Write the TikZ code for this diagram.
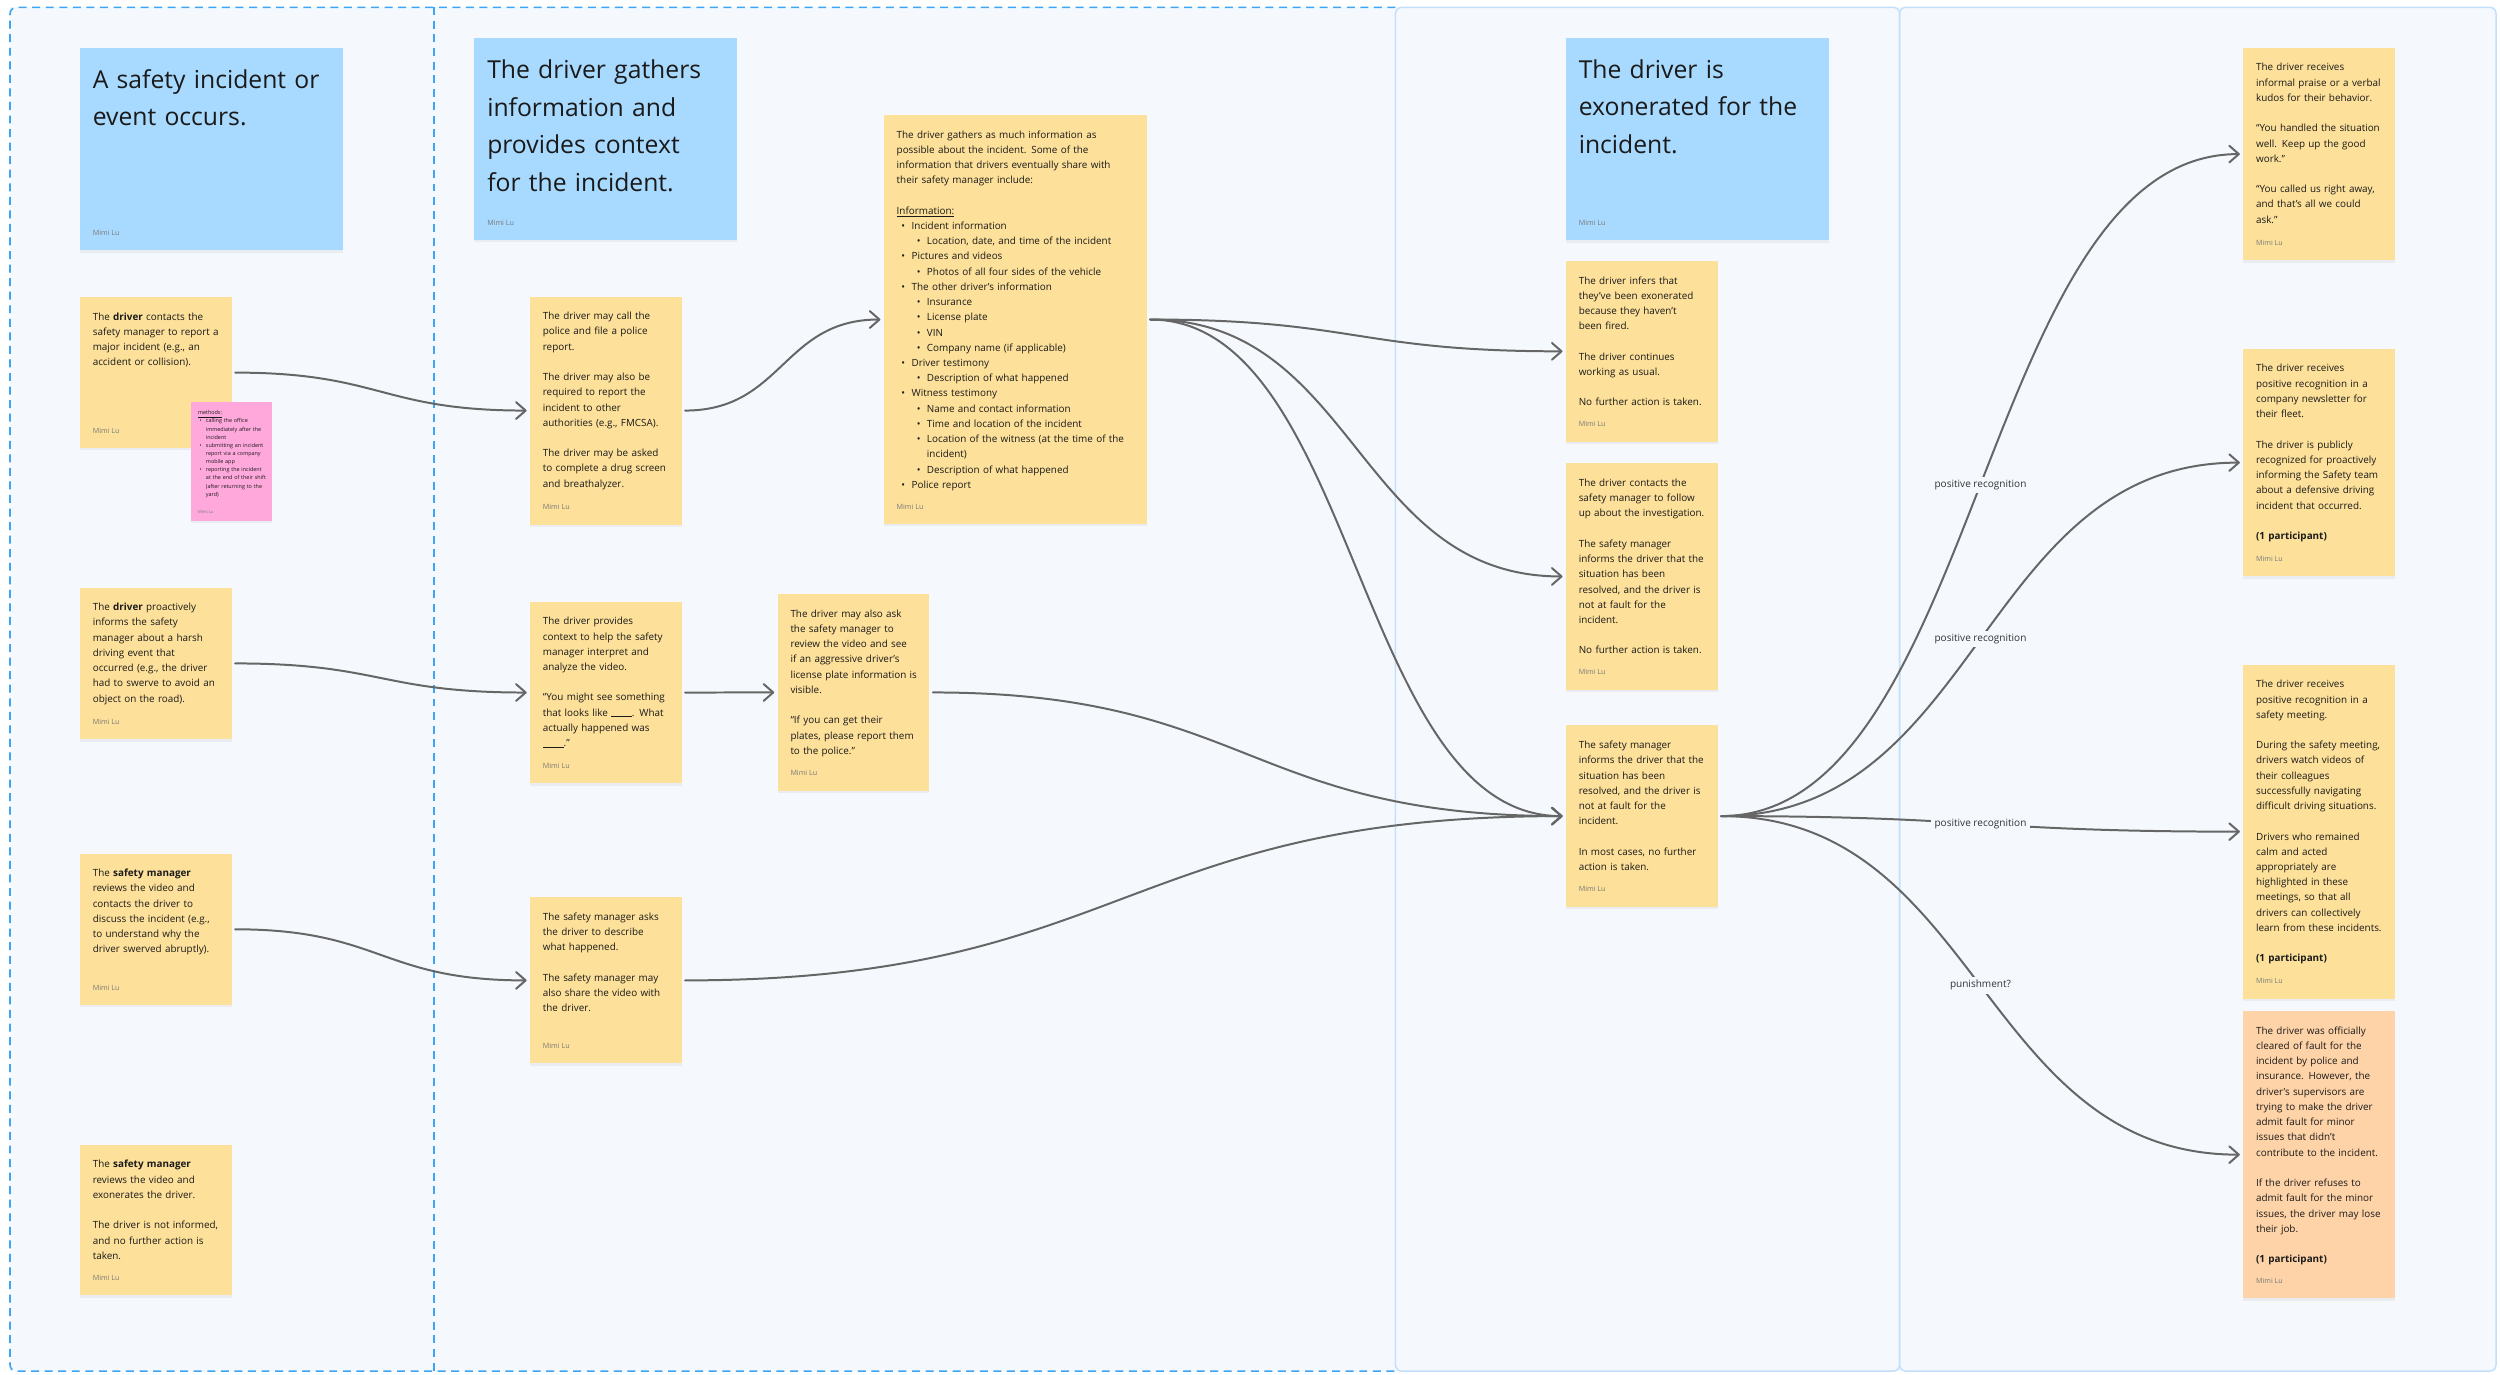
\documentclass[tikz,border=0pt]{standalone}
\usepackage{fontspec}
\setmainfont{Open Sans}
\usetikzlibrary{arrows.meta,calc,fit,shadows}

\definecolor{bgf}{HTML}{F5F9FE}
\definecolor{dashb}{HTML}{3DA5F4}
\definecolor{frameb}{HTML}{C2E0FC}
\definecolor{hblue}{HTML}{A8DAFF}
\definecolor{yel}{HTML}{FDE09A}
\definecolor{pinkn}{HTML}{FFA8DB}
\definecolor{orng}{HTML}{FFD3A8}
\definecolor{ink}{HTML}{1A1A1A}
\definecolor{mimic}{HTML}{7A7A7A}
\definecolor{lineg}{HTML}{666666}
\definecolor{lbltext}{HTML}{333333}

\newcommand\skipline{\\[9.55pt]}
\newcommand\bulA{\makebox[9.4pt][l]{\hspace{3.0pt}\textbullet}}
\newcommand\bulB{\makebox[19pt][l]{\hspace{12.6pt}\textbullet}}
\newcommand\pinkbul{\makebox[5pt][l]{\hspace{1pt}\textbullet}}
\newcommand\pinkind{\hspace*{5pt}}
\newcommand\fillblank{\rule[-0.4pt]{13pt}{0.45pt}}

\tikzset{
  note/.style={inner sep=0pt, draw=none, drop shadow={shadow xshift=0pt, shadow yshift=-1.5pt, opacity=0.10}},
  body/.style={font=\fontsize{6.2pt}{9.55pt}\selectfont, text=ink, align=left, text width=250pt, inner sep=0pt, anchor=base west},
  head/.style={font=\fontsize{15.5pt}{23.6pt}\selectfont, text=ink, align=left, text width=250pt, inner sep=0pt, anchor=base west},
  tiny/.style={font=\fontsize{3.4pt}{5.1pt}\selectfont, text=ink, align=left, text width=100pt, inner sep=0pt, anchor=base west},
  mimi/.style={font=\fontsize{4.5pt}{5pt}\selectfont, text=mimic, inner sep=0pt, anchor=base west},
  tinymimi/.style={font=\fontsize{2.6pt}{3pt}\selectfont, text=mimic, inner sep=0pt, anchor=base west},
  lbl/.style={font=\fontsize{6.3pt}{7pt}\selectfont, text=lbltext, fill=bgf, inner sep=2pt},
  dashframe/.style={draw=dashb, line width=1pt, dash pattern=on 5pt off 3.5pt, rounded corners=4pt},
  solidframe/.style={draw=frameb, line width=0.9pt, rounded corners=4pt},
  conn/.style={draw=lineg, line width=1.25pt, line cap=round,
    -{Straight Barb[length=6pt,width=10.5pt,round]}, shorten <=2pt, shorten >=2pt,
    to path={let \p1=(\tikztostart), \p2=(\tikztotarget) in
      .. controls ({0.5*\x1+0.5*\x2},\y1) and ({0.5*\x1+0.5*\x2},\y2) .. (\p2) \tikztonodes}}
}

\newcommand\sticky[4]{\node[note, fill=#2, fit={(#3) (#4)}] (#1) {};}
\newcommand\bodytext[2]{\node[body] (#1-t) at ([shift={(8,14.7)}]#1.north west) {#2};
  \node[mimi] (#1-m) at ([shift={(8,-9.5)}]#1.south west) {Mimi Lu};}
\newcommand\headtext[2]{\node[head] (#1-t) at ([shift={(8,25.4)}]#1.north west) {#2};
  \node[mimi] (#1-m) at ([shift={(8,-9.5)}]#1.south west) {Mimi Lu};}

\begin{document}
\begin{tikzpicture}[x=1pt,y=-1pt]
\useasboundingbox (0,0) rectangle (1568,862);
\fill[white] (0,0) rectangle (1568,862);
% frames
\fill[bgf] (6.3,4.6) rectangle (1565.5,860);
\draw[solidframe] (875.2,4.6) rectangle (1191.4,860);
\draw[solidframe] (1191.4,4.6) rectangle (1565.5,860);
\draw[dashframe] (875.2,4.6) -- (6.3,4.6) -- (6.3,860) -- (875.2,860);
\draw[dashframe] (272.2,4.6) -- (272.2,860);

% ---------- column 1
\sticky{h1}{hblue}{50.2,30}{215,157}
\headtext{h1}{A safety incident or\\event occurs.}

\sticky{a1}{yel}{50.2,186.4}{145.3,281}
\bodytext{a1}{The {\bfseries driver} contacts the\\
safety manager to report a\\
major incident (e.g., an\\
accident or collision).}

\sticky{p1}{pinkn}{119.8,252.3}{170.8,326.8}
\node[tiny] (p1-t) at ([shift={(4.4,8.1)}]p1.north west) {\underline{methods:}\\
\pinkbul calling the office\\
\pinkind immediately after the\\
\pinkind incident\\
\pinkbul submitting an incident\\
\pinkind report via a company\\
\pinkind mobile app\\
\pinkbul reporting the incident\\
\pinkind at the end of their shift\\
\pinkind (after returning to the\\
\pinkind yard)};
\node[tinymimi] (p1-m) at ([shift={(4.4,-5)}]p1.south west) {Mimi Lu};

\sticky{a2}{yel}{50.2,368.5}{145.3,463.7}
\bodytext{a2}{The {\bfseries driver} proactively\\
informs the safety\\
manager about a harsh\\
driving event that\\
occurred (e.g., the driver\\
had to swerve to avoid an\\
object on the road).}

\sticky{a3}{yel}{50.2,535.4}{145.3,630.3}
\bodytext{a3}{The {\bfseries safety manager}\\
reviews the video and\\
contacts the driver to\\
discuss the incident (e.g.,\\
to understand why the\\
driver swerved abruptly).}

\sticky{a4}{yel}{50.2,718}{145.3,812.5}
\bodytext{a4}{The {\bfseries safety manager}\\
reviews the video and\\
exonerates the driver.\skipline
The driver is not informed,\\
and no further action is\\
taken.}

% ---------- column 2
\sticky{h2}{hblue}{297.6,24}{462.3,150.5}
\headtext{h2}{The driver gathers\\information and\\provides context\\for the incident.}

\sticky{b1}{yel}{332.5,186}{427.5,329}
\bodytext{b1}{The driver may call the\\
police and file a police\\
report.\skipline
The driver may also be\\
required to report the\\
incident to other\\
authorities (e.g., FMCSA).\skipline
The driver may be asked\\
to complete a drug screen\\
and breathalyzer.}

\sticky{c1}{yel}{554.4,72.1}{719.2,328.7}
\bodytext{c1}{The driver gathers as much information as\\
possible about the incident. Some of the\\
information that drivers eventually share with\\
their safety manager include:\skipline
\underline{Information:}\\
\bulA Incident information\\
\bulB Location, date, and time of the incident\\
\bulA Pictures and videos\\
\bulB Photos of all four sides of the vehicle\\
\bulA The other driver’s information\\
\bulB Insurance\\
\bulB License plate\\
\bulB VIN\\
\bulB Company name (if applicable)\\
\bulA Driver testimony\\
\bulB Description of what happened\\
\bulA Witness testimony\\
\bulB Name and contact information\\
\bulB Time and location of the incident\\
\bulB Location of the witness (at the time of the\\
\hspace*{19pt}incident)\\
\bulB Description of what happened\\
\bulA Police report}

\sticky{b2}{yel}{332.5,377.4}{427.5,491.3}
\bodytext{b2}{The driver provides\\
context to help the safety\\
manager interpret and\\
analyze the video.\skipline
“You might see something\\
that looks like \fillblank. What\\
actually happened was\\
\fillblank.”}

\sticky{b3}{yel}{487.8,372.6}{582.9,496}
\bodytext{b3}{The driver may also ask\\
the safety manager to\\
review the video and see\\
if an aggressive driver’s\\
license plate information is\\
visible.\skipline
“If you can get their\\
plates, please report them\\
to the police.”}

\sticky{b4}{yel}{332.5,562.8}{427.5,667}
\bodytext{b4}{The safety manager asks\\
the driver to describe\\
what happened.\skipline
The safety manager may\\
also share the video with\\
the driver.}

% ---------- column 3
\sticky{h3}{hblue}{982.2,23.8}{1147,150.6}
\headtext{h3}{The driver is\\exonerated for the\\incident.}

\sticky{d1}{yel}{982.2,163.7}{1077.3,277}
\bodytext{d1}{The driver infers that\\
they’ve been exonerated\\
because they haven’t\\
been fired.\skipline
The driver continues\\
working as usual.\skipline
No further action is taken.}

\sticky{d2}{yel}{982.2,290.6}{1077.3,432.5}
\bodytext{d2}{The driver contacts the\\
safety manager to follow\\
up about the investigation.\skipline
The safety manager\\
informs the driver that the\\
situation has been\\
resolved, and the driver is\\
not at fault for the\\
incident.\skipline
No further action is taken.}

\sticky{d3}{yel}{982.2,455}{1077.3,568.7}
\bodytext{d3}{The safety manager\\
informs the driver that the\\
situation has been\\
resolved, and the driver is\\
not at fault for the\\
incident.\skipline
In most cases, no further\\
action is taken.}

% ---------- column 4
\sticky{e1}{yel}{1407,30}{1502,163.3}
\bodytext{e1}{The driver receives\\
informal praise or a verbal\\
kudos for their behavior.\skipline
“You handled the situation\\
well. Keep up the good\\
work.”\skipline
“You called us right away,\\
and that’s all we could\\
ask.”}

\sticky{e2}{yel}{1407,218.8}{1502,361.5}
\bodytext{e2}{The driver receives\\
positive recognition in a\\
company newsletter for\\
their fleet.\skipline
The driver is publicly\\
recognized for proactively\\
informing the Safety team\\
about a defensive driving\\
incident that occurred.\skipline
{\bfseries (1 participant)}}

\sticky{e3}{yel}{1407,416.9}{1502,626.3}
\bodytext{e3}{The driver receives\\
positive recognition in a\\
safety meeting.\skipline
During the safety meeting,\\
drivers watch videos of\\
their colleagues\\
successfully navigating\\
difficult driving situations.\skipline
Drivers who remained\\
calm and acted\\
appropriately are\\
highlighted in these\\
meetings, so that all\\
drivers can collectively\\
learn from these incidents.\skipline
{\bfseries (1 participant)}}

\sticky{e4}{orng}{1407,634.2}{1502,814.2}
\bodytext{e4}{The driver was officially\\
cleared of fault for the\\
incident by police and\\
insurance. However, the\\
driver’s supervisors are\\
trying to make the driver\\
admit fault for minor\\
issues that didn’t\\
contribute to the incident.\skipline
If the driver refuses to\\
admit fault for the minor\\
issues, the driver may lose\\
their job.\skipline
{\bfseries (1 participant)}}

% ---------- connectors
\draw[conn] (a1.east) to (b1.west);
\draw[conn] (a2.east) to (b2.west);
\draw[conn] (a3.east) to (b4.west);
\draw[conn] (b1.east) to (c1.west);
\draw[conn] (b2.east) to (b3.west);
\draw[conn] (c1.east) to (d1.west);
\draw[conn] (c1.east) to (d2.west);
\draw[conn] (c1.east) to (d3.west);
\draw[conn] (b3.east) to (d3.west);
\draw[conn] (b4.east) to (d3.west);
\draw[conn] (d3.east) to node[lbl] (l1) {positive recognition} (e1.west);
\draw[conn] (d3.east) to node[lbl] (l2) {positive recognition} (e2.west);
\draw[conn] (d3.east) to node[lbl] (l3) {positive recognition} (e3.west);
\draw[conn] (d3.east) to node[lbl] (l4) {punishment?} (e4.west);
\end{tikzpicture}
\end{document}
